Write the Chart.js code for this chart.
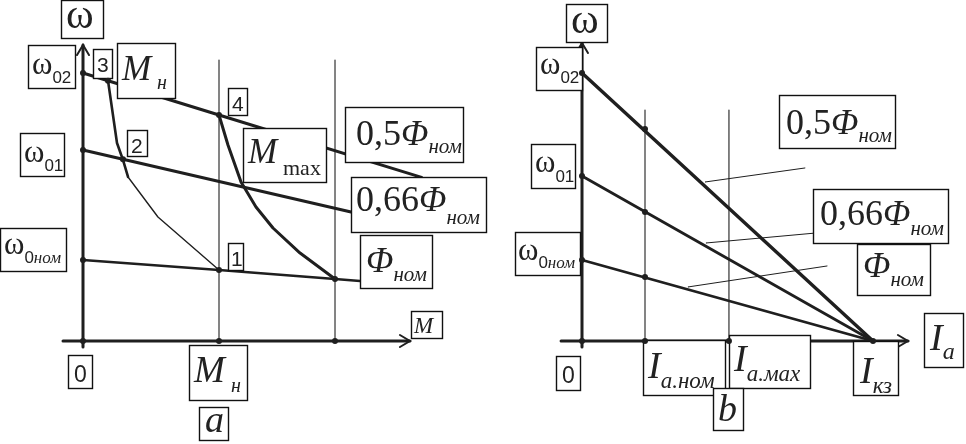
<!DOCTYPE html>
<html><head><meta charset="utf-8">
<script src="https://cdn.jsdelivr.net/npm/chart.js@4.4.0/dist/chart.umd.min.js"></script>
<style>html,body{margin:0;padding:0;background:#fff;overflow:hidden}canvas{display:block}</style>
</head><body><canvas id="c" width="966" height="444"></canvas>
<script>
// ===== DATA =====
// Panel (a): ω–M characteristics; x in units of M/Mн, y in units of ω/ω0ном
const panelA_phiNom   = [[0,1.0],[1.0,0.877],[1.853,0.765],[2.037,0.741]];
const panelA_phi066   = [[0,2.358],[0.294,2.244],[1.971,1.593]];
const panelA_phi05    = [[0,3.309],[0.184,3.213],[1.0,2.790],[2.49,2.02]];
const panelA_curveMn_upper = [[0.184,3.213],[0.25,2.444],[0.294,2.235],[0.331,2.025]];
const panelA_curveMn_lower = [[0.331,2.025],[0.551,1.531],[1.0,0.877]];
const panelA_curveMmax = [[1.0,2.790],[1.066,2.42],[1.162,1.963],[1.272,1.654],[1.397,1.395],[1.596,1.086],[1.853,0.765]];
const panelA_verticals = [1.0, 1.853];          // Mн, Mmax
const panelA_verticalTop = 3.469;
const panelA_dots = [[0,0],[1,0],[1.853,0],[0,3.309],[0,2.358],[0,1.0],[0.184,3.213],[0.294,2.244],[1.0,2.790],[1.0,0.877],[1.853,0.765]];
const panelA_axisX = [[-0.147,0],[2.404,0]];
const panelA_axisY = [[0,-0.074],[0,3.654]];

// Panel (b): ω–Ia characteristics; x in units of Ia/Iкз
const panelB_phi05  = [[0,3.309],[1.0,0]];
const panelB_phi066 = [[0,2.037],[1.0,0]];
const panelB_phiNom = [[0,1.0],[1.0,0]];
const panelB_verticals = [0.2165, 0.505];       // Ia.ном, Ia.max
const panelB_verticalTop = 2.852;
const panelB_leaders = [
  [[0.423,1.963],[0.766,2.136]],
  [[0.426,1.210],[0.842,1.346]],
  [[0.364,0.667],[0.842,0.926]]
];
const panelB_dots = [[0,0],[0.2165,0],[0.505,0],[1,0],[0,3.309],[0,2.037],[0,1.0],[0.2165,2.617],[0.2165,1.593],[0.2165,0.790]];
const panelB_axisX = [[-0.072,0],[1.120,0]];
const panelB_axisY = [[0,-0.074],[0,3.679]];

// Text labels
const fluxLabels = ['0,5', '0,66', ''];
const fluxSymbol = 'Φ', fluxSub = 'ном';
const omegaTicks = [['ω','02'],['ω','01'],['ω','0ном']];
const pointNumbers = ['1','2','3','4'];

// ===== VIEW / STYLE =====
const W = 966, H = 444;
const VIEW = { ax:{o:83,k:136}, bx:{o:582,k:291}, y:{o:341,k:81} };
const INK = '#1f1f1f';
const SERIF = '"Liberation Serif", "Times New Roman", serif';
const SANS = '"Liberation Sans", Arial, sans-serif';
const fS = s => `${s}px ${SERIF}`;
const fI = s => `italic ${s}px ${SERIF}`;
const fD = s => `${s}px ${SANS}`;

const pts = a => a.map(([x,y]) => ({x,y}));
function ln(data, ax, w, extra) {
  return Object.assign({data: pts(data), xAxisID: ax, yAxisID: 'y', showLine: true,
    borderColor: INK, borderWidth: w, pointRadius: 0, fill: false, tension: 0, order: 2,
    borderCapStyle: 'round', borderJoinStyle: 'round'}, extra || {});
}

const datasets = [];
// dots (drawn on top)
datasets.push({data: pts(panelA_dots), xAxisID:'xa', yAxisID:'y', showLine:false, pointRadius:3, pointBackgroundColor:INK, pointBorderColor:INK, pointBorderWidth:0, order:0, isDots:true});
datasets.push({data: pts(panelB_dots), xAxisID:'xb', yAxisID:'y', showLine:false, pointRadius:3, pointBackgroundColor:INK, pointBorderColor:INK, pointBorderWidth:0, order:0, isDots:true});
// axes
datasets.push(ln(panelA_axisX,'xa',3,{arrow:'right'}));
datasets.push(ln(panelA_axisY,'xa',3,{arrow:'up'}));
datasets.push(ln(panelB_axisX,'xb',3,{arrow:'right'}));
datasets.push(ln(panelB_axisY,'xb',3,{arrow:'up'}));
// verticals
panelA_verticals.forEach(v => datasets.push(ln([[v,0],[v,panelA_verticalTop]],'xa',1.1)));
panelB_verticals.forEach(v => datasets.push(ln([[v,0],[v,panelB_verticalTop]],'xb',1.1)));
// panel A curves
datasets.push(ln(panelA_phiNom,'xa',2.6));
datasets.push(ln(panelA_phi066,'xa',3));
datasets.push(ln(panelA_phi05,'xa',3));
datasets.push(ln(panelA_curveMn_upper,'xa',2.6));
datasets.push(ln(panelA_curveMn_lower,'xa',1.4));
datasets.push(ln(panelA_curveMmax,'xa',3));
// panel B lines
datasets.push(ln(panelB_phi05,'xb',3.4));
datasets.push(ln(panelB_phi066,'xb',2.8));
datasets.push(ln(panelB_phiNom,'xb',2.8));
panelB_leaders.forEach(l => datasets.push(ln(l,'xb',1)));

// ===== LABEL BOXES (pixel layout) =====
// s: [text, font, x (null = continue), baseline]
const BOXES = [
  // panel a
  {r:[61,0,43,39],   s:[['ω',fS(42),66,28]]},
  {r:[28,45,48,44],  s:[[omegaTicks[0][0],fS(31),32,74],[omegaTicks[0][1],fD(17),null,83]]},
  {r:[93,49,20,30],  s:[[pointNumbers[2],fD(21),97,72]]},
  {r:[117,43,59,56], s:[['M',fI(35),122,80],['н',fI(20),157,89]]},
  {r:[228,88,20,28], s:[[pointNumbers[3],fD(21),232,111]]},
  {r:[20,133,45,44], s:[[omegaTicks[1][0],fS(31),24,162],[omegaTicks[1][1],fD(17),null,171]]},
  {r:[127,130,21,27],s:[[pointNumbers[1],fD(21),131,153]]},
  {r:[243,128,84,55],s:[['M',fI(35),248,163],['max',fS(22),283,175]]},
  {r:[345,107,119,56],s:[[fluxLabels[0],fS(36),356,145],[fluxSymbol,fI(36),null,145],[fluxSub,fI(21),null,153]]},
  {r:[351,177,136,56],s:[[fluxLabels[1],fS(36),356,211],[fluxSymbol,fI(36),null,211],[fluxSub,fI(21),null,224]]},
  {r:[0,228,67,44],  s:[[omegaTicks[2][0],fS(31),4,254],['0',fD(17),null,263],['ном',fI(17),null,263]]},
  {r:[228,243,16,28],s:[[pointNumbers[0],fD(21),231,266]]},
  {r:[360,235,73,54],s:[[fluxSymbol,fI(36),366,272],[fluxSub,fI(21),null,281]]},
  {r:[411,311,32,28],s:[['M',fI(23),414,333]]},
  {r:[68,355,25,34], s:[['0',fD(23),74,382]]},
  {r:[189,345,59,56],s:[['M',fI(37),194,382],['н',fI(20),231,392]]},
  {r:[199,407,30,34],s:[['a',fI(38),205,432]]},
  // panel b
  {r:[566,4,42,39],  s:[['ω',fS(42),571,33]]},
  {r:[536,47,47,44], s:[[omegaTicks[0][0],fS(31),540,74],[omegaTicks[0][1],fD(17),null,83]]},
  {r:[531,144,45,45],s:[[omegaTicks[1][0],fS(31),535,172],[omegaTicks[1][1],fD(17),null,182]]},
  {r:[779,95,117,54],s:[[fluxLabels[0],fS(36),786,134],[fluxSymbol,fI(36),null,134],[fluxSub,fI(21),null,142]]},
  {r:[813,189,136,55],s:[[fluxLabels[1],fS(36),820,225],[fluxSymbol,fI(36),null,225],[fluxSub,fI(21),null,235]]},
  {r:[857,244,74,52],s:[[fluxSymbol,fI(36),863,277],[fluxSub,fI(21),null,286]]},
  {r:[515,232,66,44],s:[[omegaTicks[2][0],fS(31),518,260],['0',fD(17),null,268],['ном',fI(17),null,268]]},
  {r:[924,313,40,55],s:[['I',fI(38),930,350],['a',fI(24),null,359]]},
  {r:[556,356,25,35],s:[['0',fD(23),562,383]]},
  {r:[643,340,83,56],s:[['I',fI(38),648,378],['a.ном',fI(23),null,388]]},
  {r:[729,335,82,54],s:[['I',fI(38),734,371],['a.мах',fI(23),null,381]]},
  {r:[853,341,46,55],s:[['I',fI(38),860,383],['кз',fI(23),null,393]]},
  {r:[713,388,31,43],s:[['b',fI(38),718,421]]}
];

function drawBoxes(ctx) {
  ctx.save();
  for (const b of BOXES) {
    const [x,y,w,h] = b.r;
    ctx.fillStyle = '#fff';
    ctx.fillRect(x, y, w, h);
    ctx.strokeStyle = '#111';
    ctx.lineWidth = 1.4;
    ctx.strokeRect(x + 0.5, y + 0.5, w - 1, h - 1);
    ctx.fillStyle = '#222';
    ctx.textBaseline = 'alphabetic';
    let cx = x;
    for (const [t, f, sx, by] of b.s) {
      ctx.font = f;
      if (sx !== null) cx = sx;
      ctx.fillText(t, cx, by);
      cx += ctx.measureText(t).width;
    }
  }
  ctx.restore();
}

function drawArrows(chart) {
  const ctx = chart.ctx;
  ctx.save();
  ctx.strokeStyle = INK; ctx.lineWidth = 2; ctx.lineCap = 'round';
  chart.data.datasets.forEach(ds => {
    if (!ds.arrow) return;
    const xs = chart.scales[ds.xAxisID], ys = chart.scales.y;
    const p = ds.data[ds.data.length - 1];
    const px = xs.getPixelForValue(p.x), py = ys.getPixelForValue(p.y);
    ctx.beginPath();
    if (ds.arrow === 'right') {
      ctx.moveTo(px - 10, py - 6); ctx.lineTo(px, py); ctx.lineTo(px - 10, py + 6);
    } else {
      ctx.moveTo(px - 6, py + 10); ctx.lineTo(px, py); ctx.lineTo(px + 6, py + 10);
    }
    ctx.stroke();
  });
  ctx.restore();
}

const annot = {
  id: 'annot',
  beforeDatasetsDraw(chart) { chart.$boxesDone = false; },
  beforeDatasetDraw(chart, args) {
    if (chart.$boxesDone) return;
    if (chart.data.datasets[args.index].isDots) {
      drawArrows(chart);
      drawBoxes(chart.ctx);
      chart.$boxesDone = true;
    }
  }
};

new Chart(document.getElementById('c'), {
  type: 'scatter',
  data: { datasets },
  options: {
    responsive: false, animation: false, events: [],
    layout: { padding: 0, autoPadding: false },
    plugins: { legend: {display:false}, tooltip: {enabled:false}, title: {display:false} },
    scales: {
      xa: { type:'linear', axis:'x', position:'bottom', display:false,
            min: -VIEW.ax.o / VIEW.ax.k, max: (W - VIEW.ax.o) / VIEW.ax.k },
      xb: { type:'linear', axis:'x', position:'bottom', display:false,
            min: -VIEW.bx.o / VIEW.bx.k, max: (W - VIEW.bx.o) / VIEW.bx.k },
      y:  { type:'linear', axis:'y', position:'left', display:false,
            min: (VIEW.y.o - H) / VIEW.y.k, max: VIEW.y.o / VIEW.y.k }
    }
  },
  plugins: [annot]
});
</script>
</body></html>
